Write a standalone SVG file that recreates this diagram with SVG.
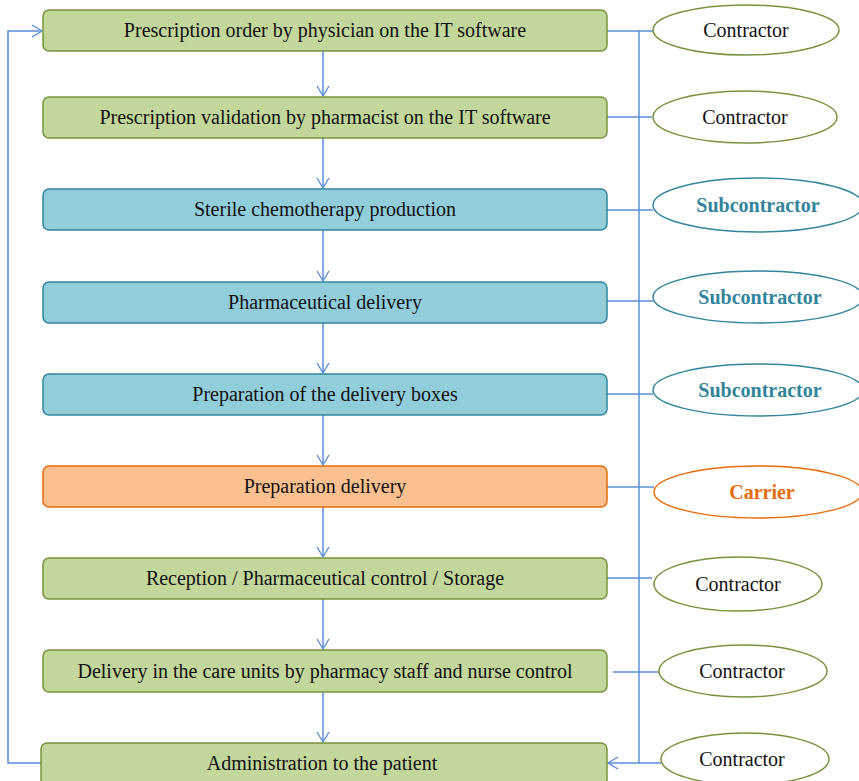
<svg xmlns="http://www.w3.org/2000/svg" width="859" height="781" viewBox="0 0 859 781">
<defs>
<marker id="arr" markerWidth="14" markerHeight="14" refX="11" refY="7" orient="auto" markerUnits="userSpaceOnUse">
<path d="M1,1 L11,7 L1,13" fill="none" stroke="#5b8fd6" stroke-width="1.4"/>
</marker>
<style>
.g{fill:#c3d69b;stroke:#77933c;stroke-width:1.5}
.b{fill:#92cddc;stroke:#31859c;stroke-width:1.5}
.o{fill:#fac090;stroke:#e46c0a;stroke-width:1.5}
.t{font-family:"Liberation Serif","Times New Roman",serif;font-size:20px;fill:#111;text-anchor:middle}
.eg{fill:#fff;stroke:#77933c;stroke-width:1.5}
.eb{fill:#fff;stroke:#31859c;stroke-width:1.5}
.eo{fill:#fff;stroke:#e46c0a;stroke-width:1.5}
.tb{font-weight:bold;fill:#31849b}
.to{font-weight:bold;fill:#e36c09}
.c{fill:none;stroke:#5b8fd6;stroke-width:1.5}
</style>
</defs>
<g id="connectors">
<line class="c" x1="323" y1="51" x2="323" y2="96" marker-end="url(#arr)"/>
<line class="c" x1="323" y1="138" x2="323" y2="188" marker-end="url(#arr)"/>
<line class="c" x1="323" y1="230" x2="323" y2="281" marker-end="url(#arr)"/>
<line class="c" x1="323" y1="323" x2="323" y2="373" marker-end="url(#arr)"/>
<line class="c" x1="323" y1="415" x2="323" y2="465" marker-end="url(#arr)"/>
<line class="c" x1="323" y1="507" x2="323" y2="557" marker-end="url(#arr)"/>
<line class="c" x1="323" y1="599" x2="323" y2="649" marker-end="url(#arr)"/>
<line class="c" x1="323" y1="692" x2="323" y2="742" marker-end="url(#arr)"/>
<polyline class="c" points="43,763 8,763 8,31 42,31" marker-end="url(#arr)"/>
<line class="c" x1="607" y1="31" x2="653" y2="31"/>
<line class="c" x1="639" y1="31" x2="639" y2="763"/>
<line class="c" x1="639" y1="763" x2="608" y2="763" marker-end="url(#arr)"/>
<line class="c" x1="607" y1="117" x2="652" y2="117"/>
<line class="c" x1="607" y1="210" x2="653" y2="210"/>
<line class="c" x1="607" y1="301" x2="653" y2="301"/>
<line class="c" x1="607" y1="394" x2="653" y2="394"/>
<line class="c" x1="607" y1="487" x2="654" y2="487"/>
<line class="c" x1="607" y1="578" x2="652" y2="578"/>
<line class="c" x1="613" y1="672" x2="660" y2="672"/>
<line class="c" x1="639" y1="763" x2="661" y2="763"/>
</g>
<g id="n1"><rect class="g" x="43" y="10" width="564" height="41" rx="6"/><text class="t" x="325" y="37">Prescription order by physician  on the IT software</text></g>
<g id="n2"><rect class="g" x="43" y="97" width="564" height="41" rx="6"/><text class="t" x="325" y="124">Prescription validation  by pharmacist on the IT software</text></g>
<g id="n3"><rect class="b" x="43" y="189" width="564" height="41" rx="6"/><text class="t" x="325" y="216">Sterile  chemotherapy production</text></g>
<g id="n4"><rect class="b" x="43" y="282" width="564" height="41" rx="6"/><text class="t" x="325" y="309">Pharmaceutical delivery</text></g>
<g id="n5"><rect class="b" x="43" y="374" width="564" height="41" rx="6"/><text class="t" x="325" y="401">Preparation of the delivery  boxes</text></g>
<g id="n6"><rect class="o" x="43" y="466" width="564" height="41" rx="6"/><text class="t" x="325" y="493">Preparation delivery</text></g>
<g id="n7"><rect class="g" x="43" y="558" width="564" height="41" rx="6"/><text class="t" x="325" y="585">Reception / Pharmaceutical control / Storage</text></g>
<g id="n8"><rect class="g" x="43" y="650" width="564" height="42" rx="6"/><text class="t" x="325" y="678">Delivery in the care units by pharmacy staff and nurse control</text></g>
<g id="n9"><rect class="g" x="41" y="743" width="566" height="42" rx="6"/><text class="t" x="322" y="770">Administration  to the patient</text></g>
<g id="e1"><ellipse class="eg" cx="746" cy="30" rx="93" ry="25"/><text class="t" x="746" y="37">Contractor</text></g>
<g id="e2"><ellipse class="eg" cx="745" cy="117" rx="92" ry="26"/><text class="t" x="745" y="124">Contractor</text></g>
<g id="e3"><ellipse class="eb" cx="758" cy="205" rx="105" ry="27"/><text class="t tb" x="758" y="212">Subcontractor</text></g>
<g id="e4"><ellipse class="eb" cx="758" cy="297" rx="105" ry="26"/><text class="t tb" x="760" y="304">Subcontractor</text></g>
<g id="e5"><ellipse class="eb" cx="758" cy="390" rx="105" ry="26"/><text class="t tb" x="760" y="397">Subcontractor</text></g>
<g id="e6"><ellipse class="eo" cx="758" cy="492" rx="104" ry="26"/><text class="t to" x="762" y="499">Carrier</text></g>
<g id="e7"><ellipse class="eg" cx="738" cy="584" rx="84" ry="27"/><text class="t" x="738" y="591">Contractor</text></g>
<g id="e8"><ellipse class="eg" cx="743" cy="671" rx="84" ry="26"/><text class="t" x="742" y="678">Contractor</text></g>
<g id="e9"><ellipse class="eg" cx="745" cy="759" rx="84" ry="26"/><text class="t" x="742" y="766">Contractor</text></g>
</svg>
